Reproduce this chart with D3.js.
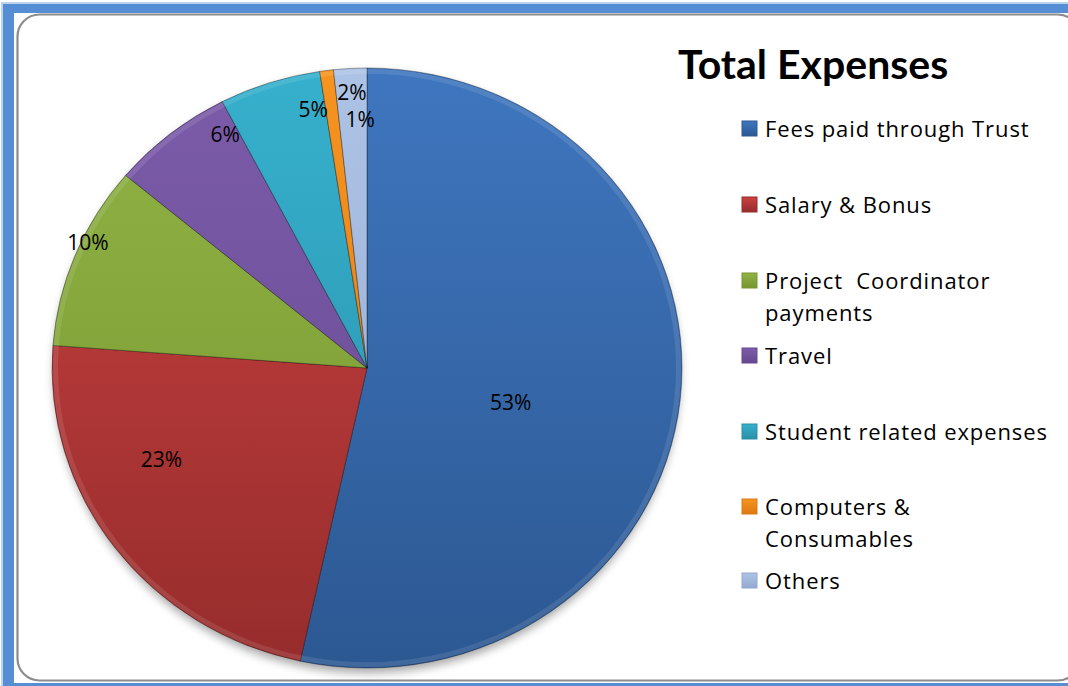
<!DOCTYPE html>
<html>
<head>
<meta charset="utf-8">
<script src="https://cdn.jsdelivr.net/npm/d3@7"></script>
<style>
  html, body { margin: 0; padding: 0; background: #ffffff; }
  svg { display: block; }
</style>
</head>
<body>
<svg id="chart" width="1068" height="686"></svg>
<script>
// ---- data ----
const categories = [
  "Fees paid through Trust",
  "Salary & Bonus",
  "Project  Coordinator payments",
  "Travel",
  "Student related expenses",
  "Computers & Consumables",
  "Others"
];
const legendLines = [
  ["Fees paid through Trust"],
  ["Salary & Bonus"],
  ["Project  Coordinator", "payments"],
  ["Travel"],
  ["Student related expenses"],
  ["Computers &", "Consumables"],
  ["Others"]
];
const values = [53.4, 22.8, 9.9, 6.3, 5.2, 0.7, 1.7];
const valueLabels = ["53%", "23%", "10%", "6%", "5%", "1%", "2%"];
const title = "Total Expenses";

// ---- styles ----
const topColors = ["#3F76BF", "#CC4242", "#90B345", "#7C5CAA", "#36B0CD", "#F7931F", "#ADC3E6"];
const botColors = ["#2C5892", "#962C2C", "#76962F", "#664890", "#2A8FA8", "#DB7A12", "#93A9D0"];
// label placement tweaks (radius fraction, angular nudge in degrees)
const labelRFrac = [0.47, 0.72, 0.98, 0.9, 0.88, 0.83, 0.92];
const labelNudge = [7.9, 11.7, 3.2, 8.7, 6.8, 5.9, 0.1];

const W = 1068, H = 686;
const svg = d3.select("#chart");
const defs = svg.append("defs");

// ---- frame ----
svg.append("rect").attr("x", 0).attr("y", 0).attr("width", W).attr("height", H).attr("fill", "#ffffff");
svg.append("rect").attr("x", 1).attr("y", 2).attr("width", W).attr("height", H).attr("fill", "#BCD3EE");
svg.append("rect").attr("x", 3).attr("y", 4).attr("width", W).attr("height", H - 4).attr("fill", "#558ED5");
svg.append("rect").attr("x", 14).attr("y", 13).attr("width", W).attr("height", 670).attr("fill", "#ffffff");
svg.append("rect").attr("x", 17.5).attr("y", 14.5).attr("width", 1062).attr("height", 666)
  .attr("rx", 22).attr("ry", 22)
  .attr("fill", "none").attr("stroke", "#8C8C8C").attr("stroke-width", 2.2);

// ---- pie ----
const cx = 367, cy = 368, rx = 315, ry = 300;
const sy = ry / rx;

// shadow
const blur = defs.append("filter").attr("id", "shadow").attr("x", "-20%").attr("y", "-20%").attr("width", "140%").attr("height", "140%");
blur.append("feGaussianBlur").attr("stdDeviation", 5);
svg.append("ellipse").attr("cx", cx).attr("cy", cy + 5).attr("rx", rx - 2).attr("ry", ry)
  .attr("fill", "#000").attr("opacity", 0.35).attr("filter", "url(#shadow)");

values.forEach((v, i) => {
  const g = defs.append("linearGradient").attr("id", "grad" + i)
    .attr("gradientUnits", "userSpaceOnUse")
    .attr("x1", 0).attr("y1", -rx).attr("x2", 0).attr("y2", rx);
  g.append("stop").attr("offset", "0%").attr("stop-color", topColors[i]);
  g.append("stop").attr("offset", "100%").attr("stop-color", botColors[i]);
});

const pie = d3.pie().sort(null).value(d => d)(values);
const arc = d3.arc().innerRadius(0).outerRadius(rx);

const pg = svg.append("g").attr("transform", `translate(${cx},${cy}) scale(1,${sy})`);
pg.selectAll("path.slice").data(pie).join("path")
  .attr("class", "slice")
  .attr("d", arc)
  .attr("fill", (d, i) => `url(#grad${i})`)
  .attr("stroke", "rgba(0,0,0,0.35)")
  .attr("stroke-width", 1);

// bevel highlight: inner lighter edge
const bevelArc = d3.arc().innerRadius(rx - 6).outerRadius(rx - 1);
pg.selectAll("path.bevel").data(pie).join("path")
  .attr("class", "bevel")
  .attr("d", bevelArc)
  .attr("fill", "rgba(255,255,255,0.10)");

// labels
const labG = svg.append("g");
pie.forEach((d, i) => {
  const mid = (d.startAngle + d.endAngle) / 2 + labelNudge[i] * Math.PI / 180;
  const r = labelRFrac[i];
  const x = cx + rx * r * Math.sin(mid);
  const y = cy - ry * r * Math.cos(mid);
  labG.append("text")
    .attr("x", x).attr("y", y)
    .attr("text-anchor", "middle")
    .attr("dominant-baseline", "central")
    .attr("font-family", "Open Sans, sans-serif")
    .attr("font-size", 21)
    .attr("fill", "#000")
    .text(valueLabels[i]);
});

// ---- title ----
svg.append("text")
  .attr("x", 678).attr("y", 79)
  .attr("font-family", "Lato, sans-serif")
  .attr("font-weight", "bold")
  .attr("font-size", 41)
  .attr("fill", "#000")
  .text(title);

// ---- legend ----
const legendY = [128, 204, 280, 355, 431, 506, 580];
const lg = svg.append("g");
categories.forEach((c, i) => {
  const lgd = defs.append("linearGradient").attr("id", "lgrad" + i)
    .attr("x1", 0).attr("y1", 0).attr("x2", 0).attr("y2", 1);
  lgd.append("stop").attr("offset", "0%").attr("stop-color", topColors[i]);
  lgd.append("stop").attr("offset", "100%").attr("stop-color", botColors[i]);
  const gi = lg.append("g").attr("transform", `translate(742,${legendY[i]})`);
  gi.append("rect").attr("x", 0).attr("y", -7).attr("width", 15).attr("height", 15)
    .attr("fill", `url(#lgrad${i})`).attr("stroke", botColors[i]).attr("stroke-width", 1);
  legendLines[i].forEach((line, j) => {
    gi.append("text")
      .attr("x", 23).attr("y", j * 32)
      .attr("dominant-baseline", "central")
      .attr("font-family", "Open Sans, sans-serif")
      .attr("font-size", 22)
      .attr("letter-spacing", 0.9)
      .attr("fill", "#000")
      .style("white-space", "pre")
      .text(line);
  });
});
</script>
</body>
</html>
